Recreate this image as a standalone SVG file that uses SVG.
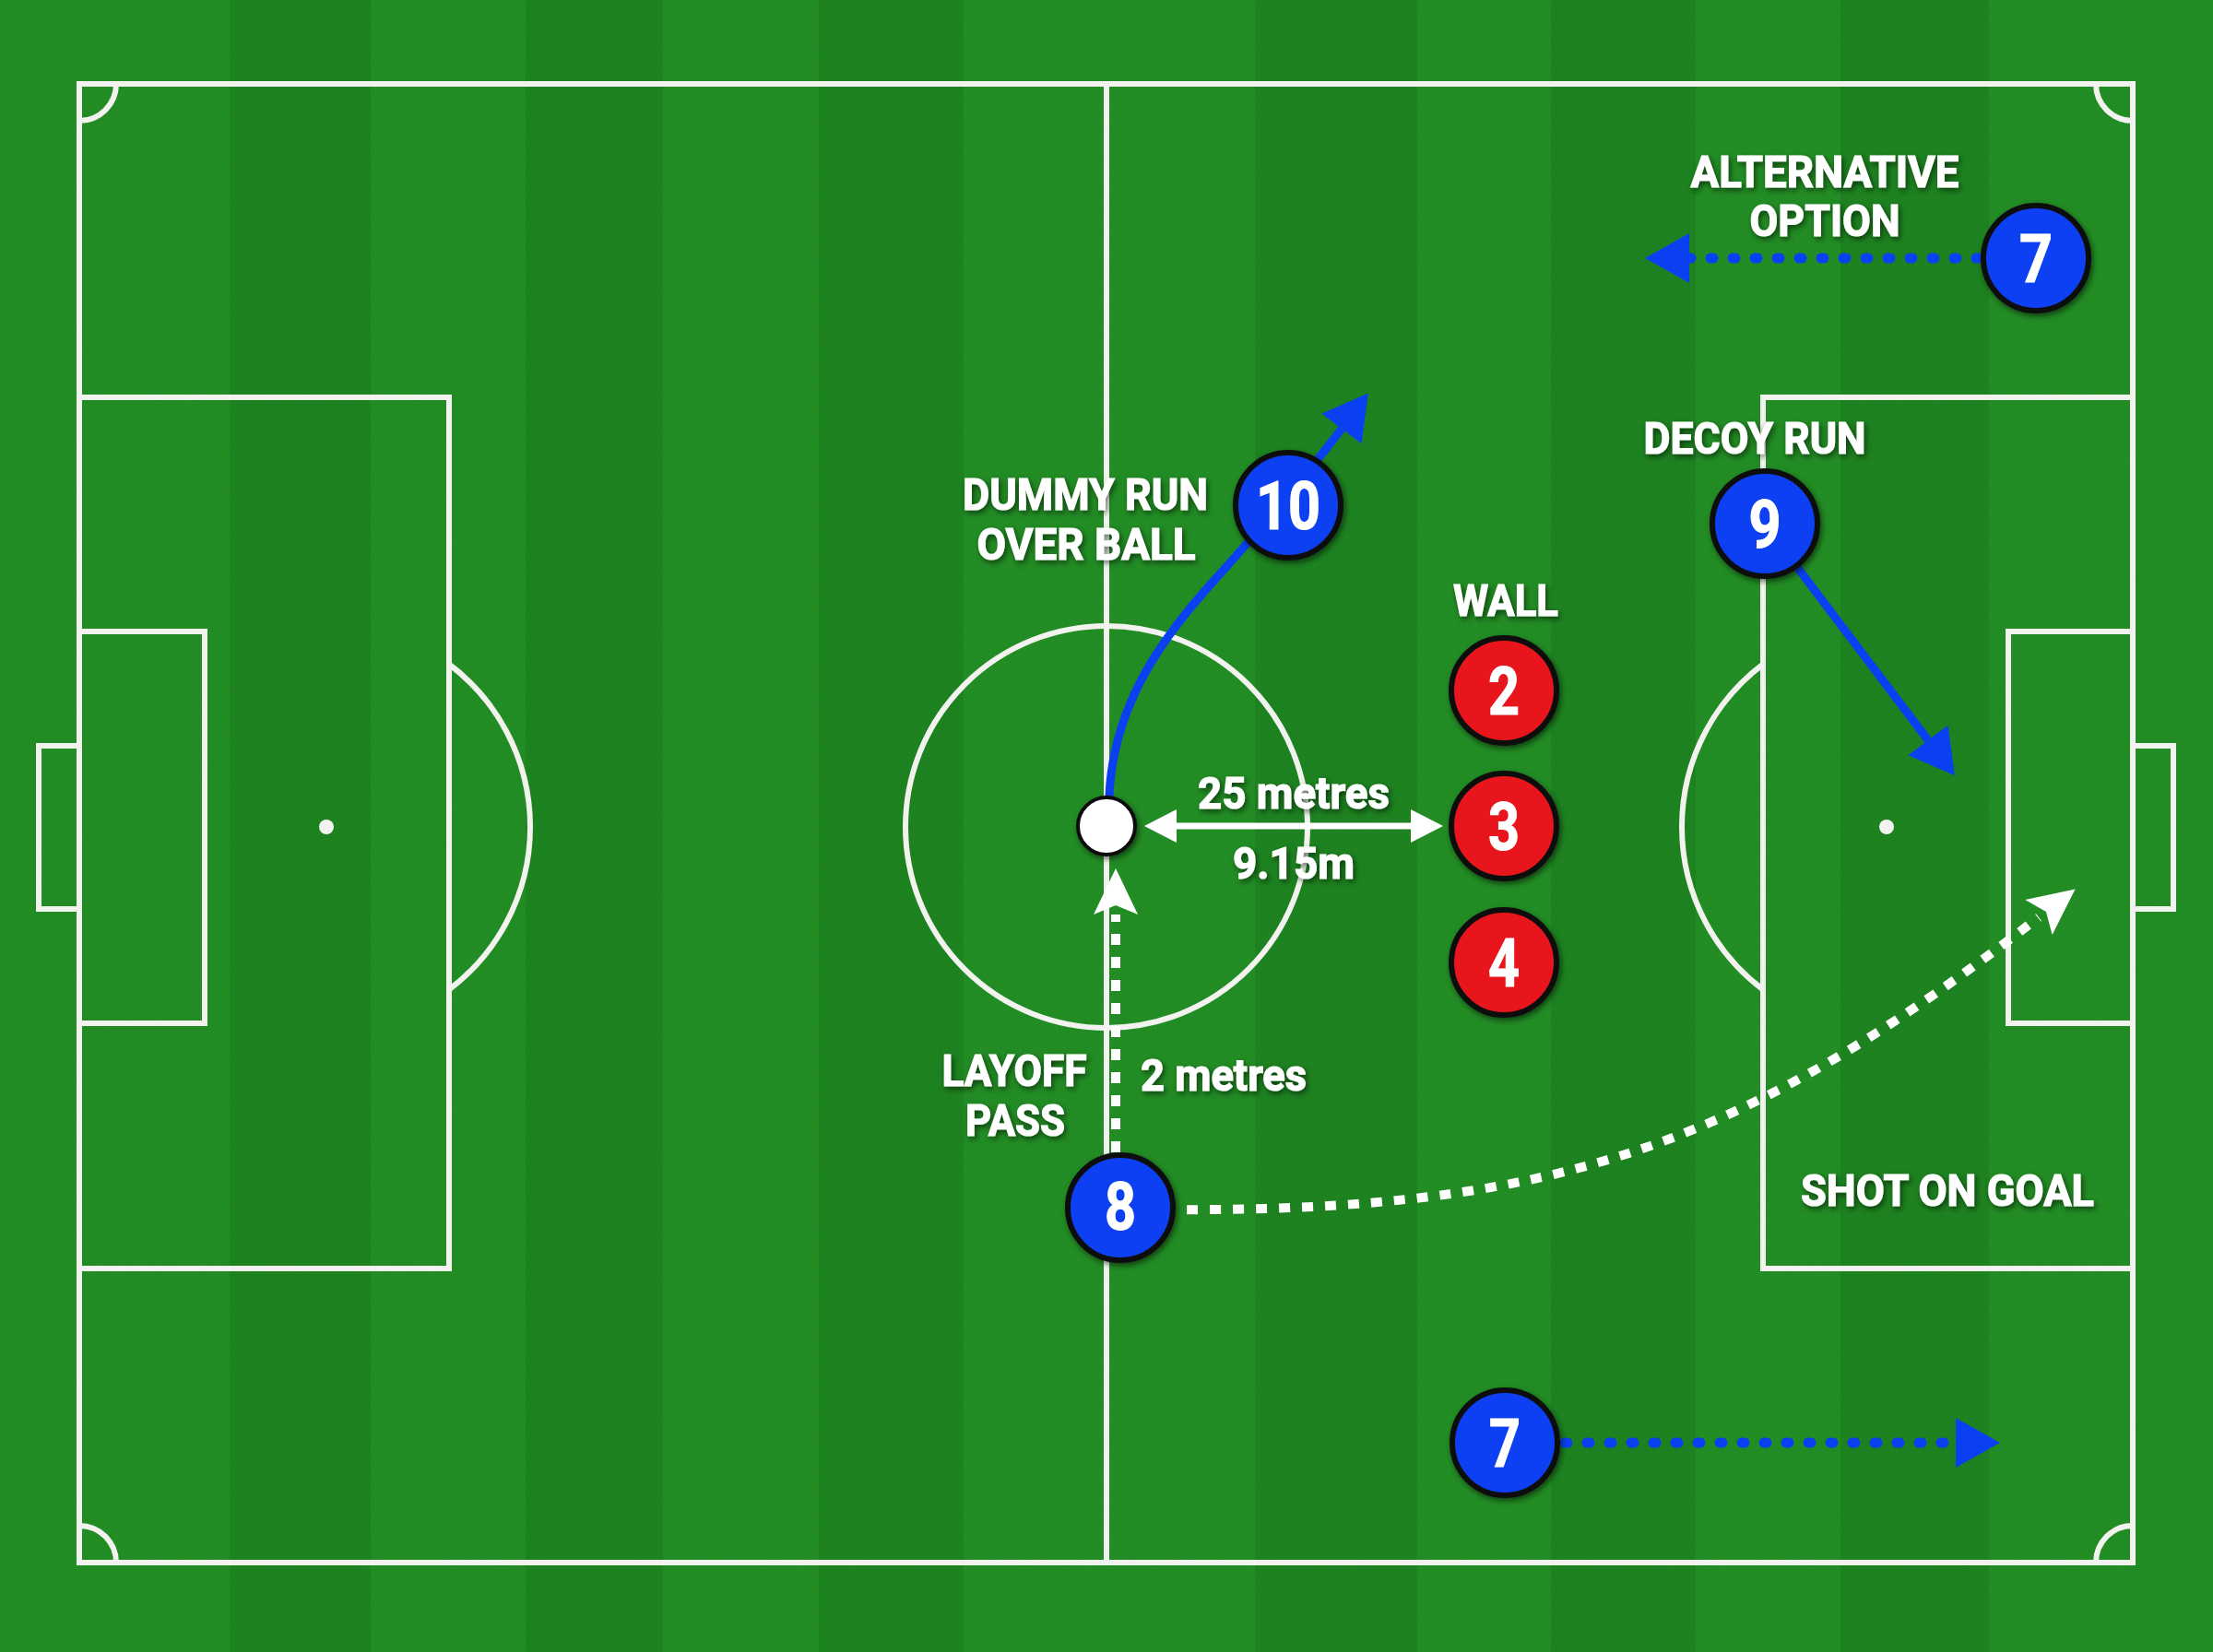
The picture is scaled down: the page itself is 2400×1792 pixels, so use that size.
<svg xmlns="http://www.w3.org/2000/svg" width="2400" height="1792" viewBox="0 0 2400 1792">
<defs>
<style>
.lt{fill:#249526}
.dk{fill:#1f8a22}
.ln{fill:none;stroke:#f2f2ee;stroke-width:6}
.spot{fill:#f2f2ee}
.lbl{font-family:Roboto,"Liberation Sans",sans-serif;font-weight:700;font-size:49px;fill:#fff;stroke:#fff;stroke-width:1.2;text-anchor:middle}
.num{font-family:Roboto,"Liberation Sans",sans-serif;font-weight:700;font-size:72px;fill:#fff;stroke:#fff;stroke-width:1.2;text-anchor:middle}
.blue{fill:#0b40f2;stroke:#111;stroke-width:6}
.red{fill:#e8181b;stroke:#111;stroke-width:6}
.bsolid{fill:none;stroke:#0b40f2;stroke-width:9}
.bdot{fill:none;stroke:#0b40f2;stroke-width:11;stroke-linecap:round;stroke-dasharray:3 21}
.wdot{fill:none;stroke:#fff;stroke-width:10;stroke-dasharray:12 13}
.wsolid{fill:none;stroke:#fff;stroke-width:7}
</style>
<filter id="sh" x="-20%" y="-30%" width="140%" height="160%">
<feDropShadow dx="2" dy="3" stdDeviation="3" flood-color="#000" flood-opacity="0.55"/>
</filter>
<filter id="noise" x="0" y="0" width="100%" height="100%">
<feTurbulence type="fractalNoise" baseFrequency="0.9" numOctaves="2" seed="3"/>
<feColorMatrix type="matrix" values="0 0 0 0 0  0 0 0 0 0  0 0 0 0 0  0 0 0 0.12 0"/>
</filter>
<marker id="bh" markerUnits="userSpaceOnUse" viewBox="-2 -30 54 60" markerWidth="54" markerHeight="60" refX="0" refY="0" orient="auto">
<path d="M48,0 L0,-27 L0,27 Z" fill="#0b40f2"/>
</marker>
<marker id="wh" markerUnits="userSpaceOnUse" viewBox="-2 -28 56 56" markerWidth="56" markerHeight="56" refX="0" refY="0" orient="auto">
<path d="M50,0 L0,-24 L10,0 L0,24 Z" fill="#fff"/>
</marker>
<marker id="ws" markerUnits="userSpaceOnUse" viewBox="-2 -22 40 44" markerWidth="40" markerHeight="44" refX="0" refY="0" orient="auto-start-reverse">
<path d="M35,0 L0,-18 L0,18 Z" fill="#fff"/>
</marker>
</defs>

<g id="grass">
<rect class="lt" x="0" y="0" width="2400" height="1792"/>
<rect class="dk" x="249" y="0" width="153" height="1792"/>
<rect class="dk" x="570" y="0" width="149" height="1792"/>
<rect class="dk" x="888" y="0" width="157" height="1792"/>
<rect class="dk" x="1361" y="0" width="176" height="1792"/>
<rect class="dk" x="1682" y="0" width="157" height="1792"/>
<rect class="dk" x="1996" y="0" width="161" height="1792"/>
<rect x="0" y="0" width="2400" height="1792" filter="url(#noise)"/>
</g>

<g id="pitch">
<rect class="ln" x="86" y="91" width="2227" height="1604"/>
<path class="ln" d="M1200,91 V1695"/>
<circle class="ln" cx="1200" cy="897" r="218"/>
<path class="ln" d="M86,431 H487 V1376 H86"/>
<path class="ln" d="M86,685 H222 V1110 H86"/>
<path class="ln" d="M86,809 H42 V986 H86"/>
<path class="ln" d="M487,720.5 A221,221 0 0 1 487,1073.5"/>
<circle class="spot" cx="354" cy="897" r="8"/>
<path class="ln" d="M2313,431 H1912 V1376 H2313"/>
<path class="ln" d="M2313,685 H2178 V1110 H2313"/>
<path class="ln" d="M2313,809 H2357 V986 H2313"/>
<path class="ln" d="M1912,720.5 A221,221 0 0 0 1912,1073.5"/>
<circle class="spot" cx="2046" cy="897" r="8"/>
<path class="ln" d="M126,91 A40,40 0 0 1 86,131"/>
<path class="ln" d="M2273,91 A40,40 0 0 0 2313,131"/>
<path class="ln" d="M86,1655 A40,40 0 0 1 126,1695"/>
<path class="ln" d="M2313,1655 A40,40 0 0 0 2273,1695"/>
</g>

<g id="connectors">
<path class="bsolid" d="M1203,864 C1208,740 1290,660 1345,598 C1385,552 1425,505 1455,465" marker-end="url(#bh)"/>
<path class="bsolid" d="M1930,590 L2091,803" marker-end="url(#bh)"/>
<path class="bdot" d="M2146,280 L1832,280" marker-end="url(#bh)"/>
<path class="bdot" d="M1697,1565 L2121,1565" marker-end="url(#bh)"/>
<path class="wdot" d="M1210,1250 L1210,992" marker-end="url(#wh)"/>
<path class="wdot" d="M1262,1312 C1700,1316 1900,1235 2211,995" marker-end="url(#wh)"/>
<path class="wsolid" d="M1276,896 L1530,896" marker-start="url(#ws)" marker-end="url(#ws)"/>
</g>

<g id="ball" filter="url(#sh)">
<circle cx="1200" cy="896" r="31" fill="#fff" stroke="#111" stroke-width="4"/>
</g>

<g id="p10" filter="url(#sh)">
<circle class="blue" cx="1397" cy="548" r="57"/>
<text class="num" x="1397" y="574" textLength="70" lengthAdjust="spacingAndGlyphs">10</text>
</g>
<g id="p9" filter="url(#sh)">
<circle class="blue" cx="1914" cy="568" r="57"/>
<text class="num" x="1914" y="594" textLength="35" lengthAdjust="spacingAndGlyphs">9</text>
</g>
<g id="p7top" filter="url(#sh)">
<circle class="blue" cx="2208" cy="280" r="57"/>
<text class="num" x="2208" y="306" textLength="36" lengthAdjust="spacingAndGlyphs">7</text>
</g>
<g id="p2" filter="url(#sh)">
<circle class="red" cx="1631" cy="749" r="57"/>
<text class="num" x="1631" y="775" textLength="34" lengthAdjust="spacingAndGlyphs">2</text>
</g>
<g id="p3" filter="url(#sh)">
<circle class="red" cx="1631" cy="896" r="57"/>
<text class="num" x="1631" y="922" textLength="34" lengthAdjust="spacingAndGlyphs">3</text>
</g>
<g id="p4" filter="url(#sh)">
<circle class="red" cx="1631" cy="1044" r="57"/>
<text class="num" x="1631" y="1070" textLength="34" lengthAdjust="spacingAndGlyphs">4</text>
</g>
<g id="p8" filter="url(#sh)">
<circle class="blue" cx="1215" cy="1310" r="57"/>
<text class="num" x="1215" y="1334" textLength="34" lengthAdjust="spacingAndGlyphs">8</text>
</g>
<g id="p7bottom" filter="url(#sh)">
<circle class="blue" cx="1632" cy="1565" r="57"/>
<text class="num" x="1632" y="1591" textLength="34" lengthAdjust="spacingAndGlyphs">7</text>
</g>

<g id="labels" filter="url(#sh)">
<text class="lbl" x="1177" y="553" textLength="266" lengthAdjust="spacingAndGlyphs">DUMMY RUN</text>
<text class="lbl" x="1178" y="607" textLength="237" lengthAdjust="spacingAndGlyphs">OVER BALL</text>
<text class="lbl" x="1633" y="668" textLength="114" lengthAdjust="spacingAndGlyphs">WALL</text>
<text class="lbl" x="1403" y="877" textLength="208" lengthAdjust="spacingAndGlyphs">25 metres</text>
<text class="lbl" x="1403" y="953" textLength="132" lengthAdjust="spacingAndGlyphs">9.15m</text>
<text class="lbl" x="1979" y="203" textLength="291" lengthAdjust="spacingAndGlyphs">ALTERNATIVE</text>
<text class="lbl" x="1979" y="256" textLength="163" lengthAdjust="spacingAndGlyphs">OPTION</text>
<text class="lbl" x="1903" y="492" textLength="241" lengthAdjust="spacingAndGlyphs">DECOY RUN</text>
<text class="lbl" x="2112" y="1308" textLength="318" lengthAdjust="spacingAndGlyphs">SHOT ON GOAL</text>
<text class="lbl" x="1100" y="1178" textLength="157" lengthAdjust="spacingAndGlyphs">LAYOFF</text>
<text class="lbl" x="1101" y="1232" textLength="108" lengthAdjust="spacingAndGlyphs">PASS</text>
<text class="lbl" x="1327" y="1183" textLength="180" lengthAdjust="spacingAndGlyphs">2 metres</text>
</g>
</svg>
